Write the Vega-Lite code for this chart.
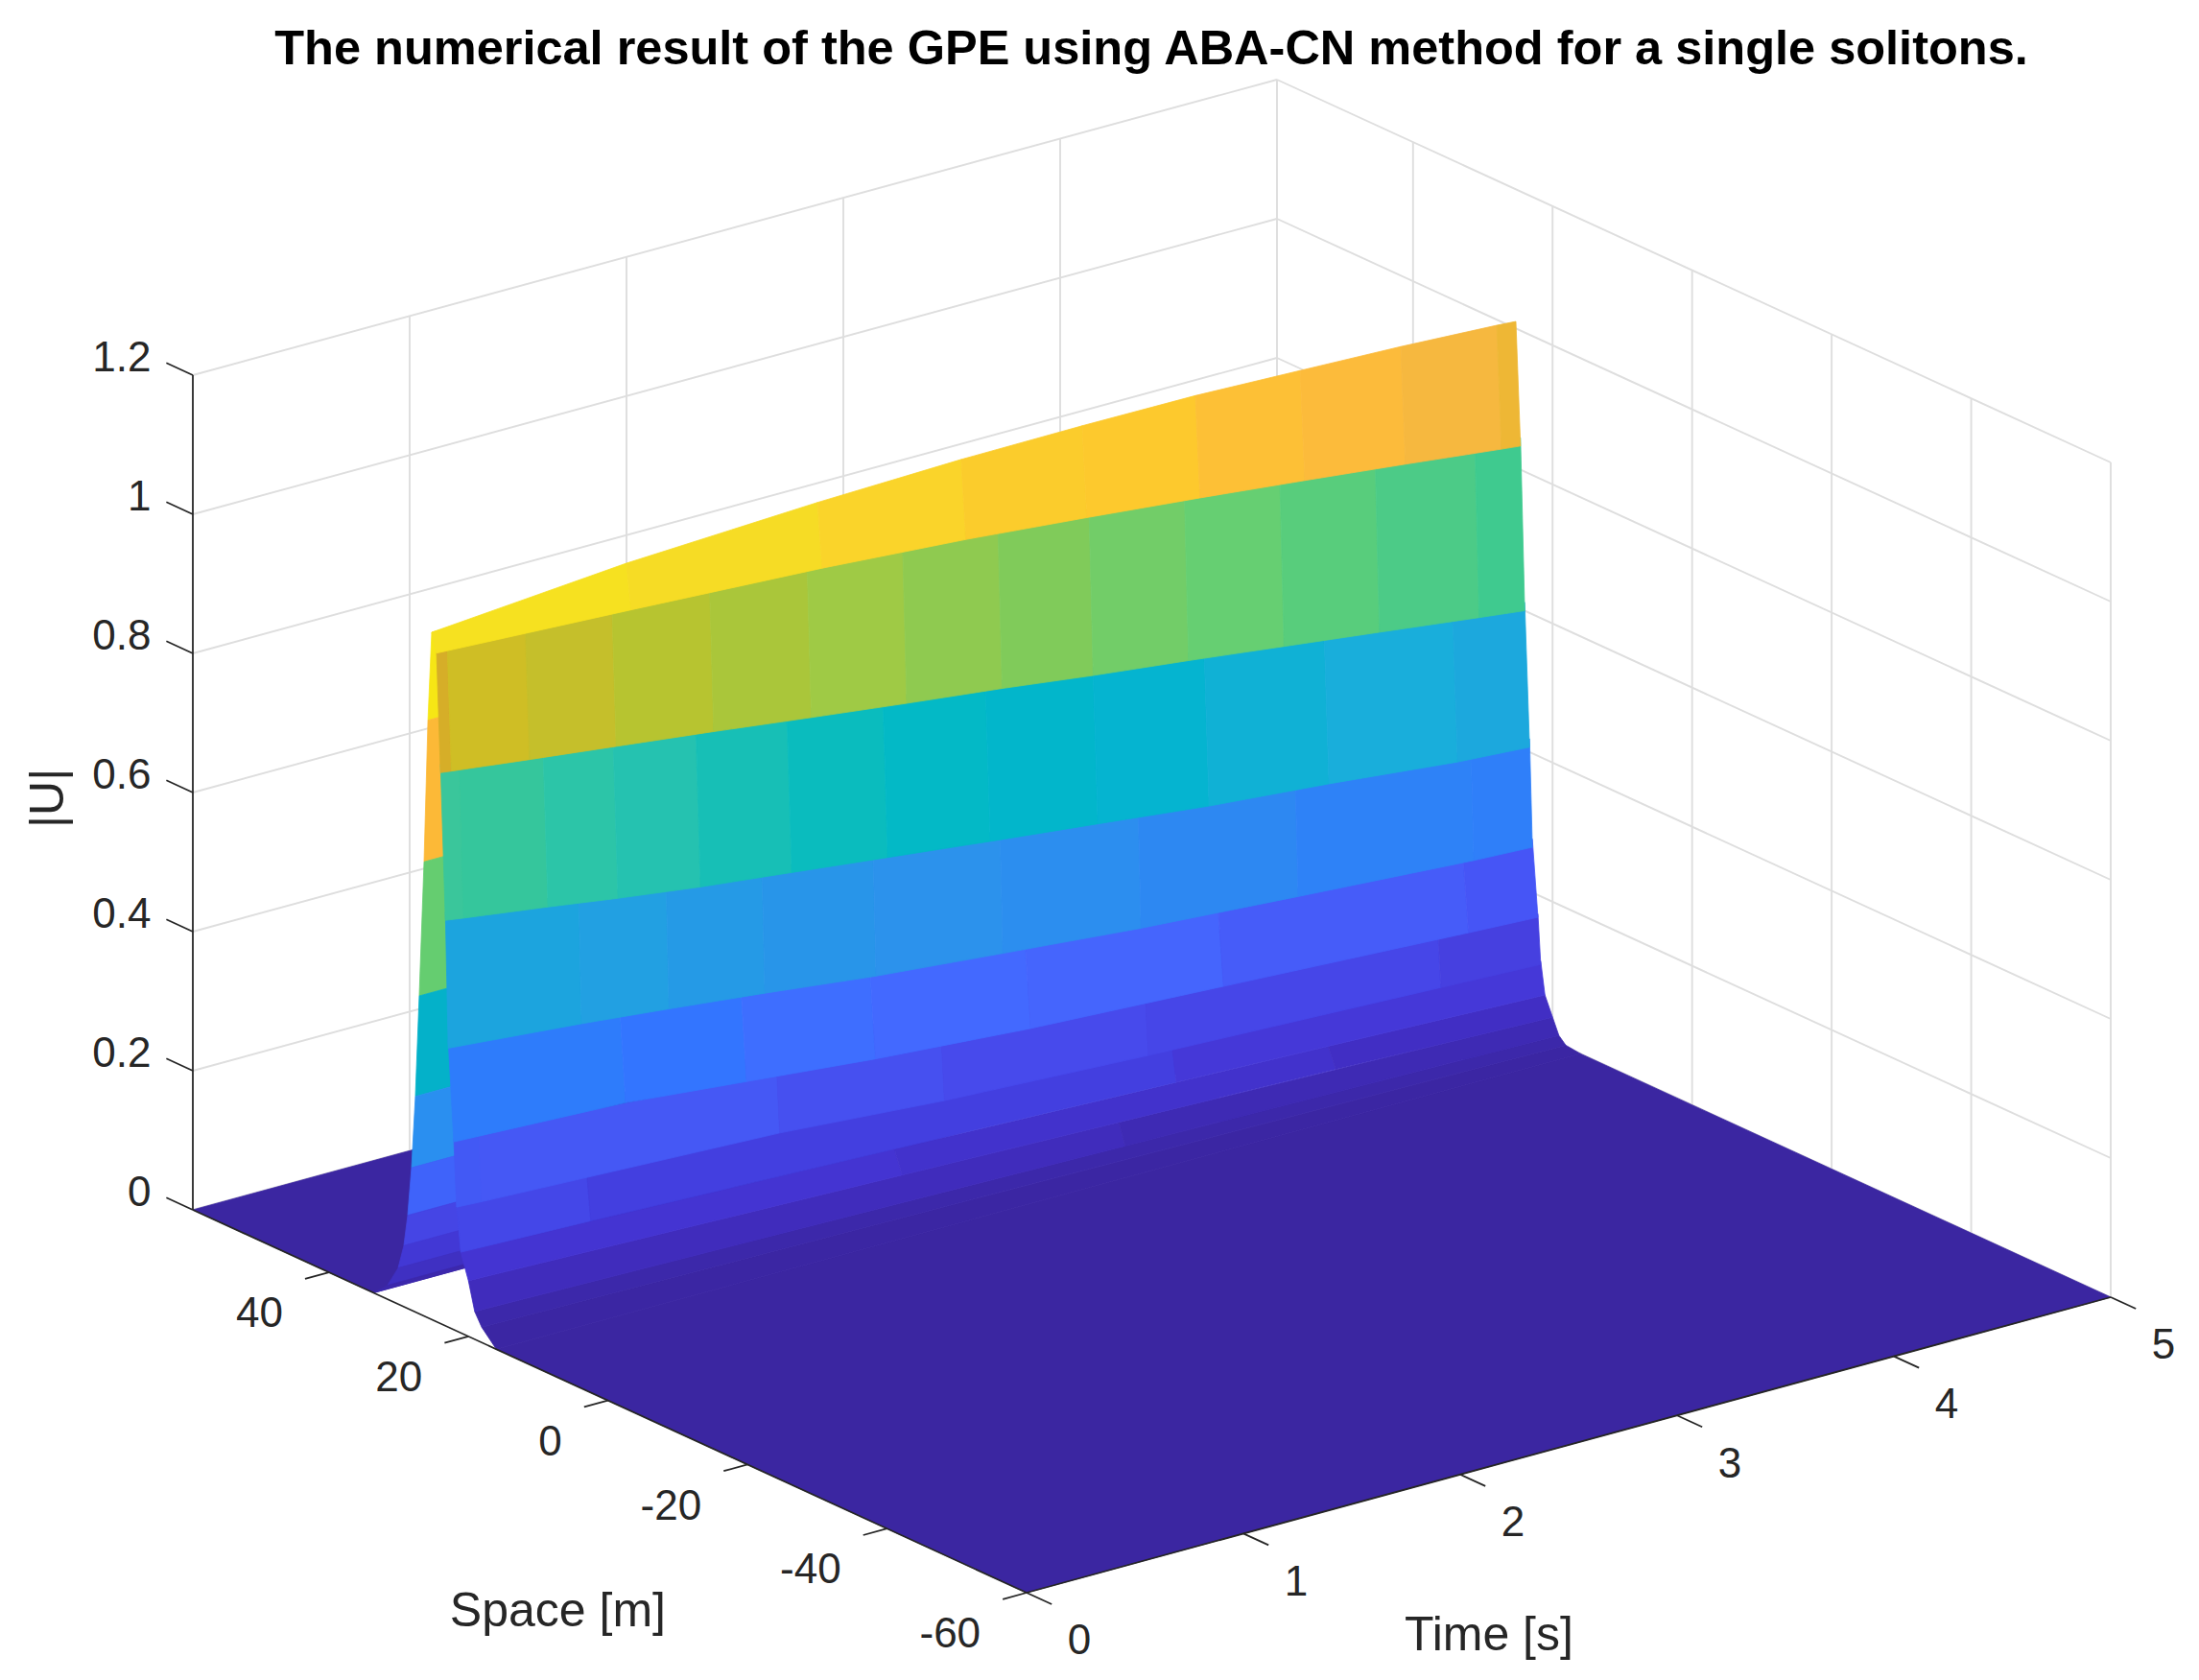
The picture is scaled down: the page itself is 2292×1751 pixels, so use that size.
{"$schema":"https://vega.github.io/schema/vega-lite/v6.json","width":2292,"height":1751,"padding":0,"autosize":{"type":"none"},"background":"white","view":{"stroke":null},
"title":{"text":"The numerical result of the GPE using ABA-CN method for a single solitons.","anchor":"middle","frame":"group","font":"Liberation Sans","fontWeight":"bold","fontSize":50.5,"color":"#000000","offset":0,"dx":54,"dy":117,"baseline":"alphabetic"},
"datasets":{
"walls":[
{"id":"a0","t0":0,"t1":5,"s0":59.5,"s1":59.5,"u0":0,"u1":0},{"id":"a1","t0":0,"t1":5,"s0":59.5,"s1":59.5,"u0":0.2,"u1":0.2},{"id":"a2","t0":0,"t1":5,"s0":59.5,"s1":59.5,"u0":0.4,"u1":0.4},{"id":"a3","t0":0,"t1":5,"s0":59.5,"s1":59.5,"u0":0.6,"u1":0.6},{"id":"a4","t0":0,"t1":5,"s0":59.5,"s1":59.5,"u0":0.8,"u1":0.8},{"id":"a5","t0":0,"t1":5,"s0":59.5,"s1":59.5,"u0":1,"u1":1},{"id":"a6","t0":0,"t1":5,"s0":59.5,"s1":59.5,"u0":1.2,"u1":1.2},
{"id":"b0","t0":5,"t1":5,"s0":59.5,"s1":-60,"u0":0,"u1":0},{"id":"b1","t0":5,"t1":5,"s0":59.5,"s1":-60,"u0":0.2,"u1":0.2},{"id":"b2","t0":5,"t1":5,"s0":59.5,"s1":-60,"u0":0.4,"u1":0.4},{"id":"b3","t0":5,"t1":5,"s0":59.5,"s1":-60,"u0":0.6,"u1":0.6},{"id":"b4","t0":5,"t1":5,"s0":59.5,"s1":-60,"u0":0.8,"u1":0.8},{"id":"b5","t0":5,"t1":5,"s0":59.5,"s1":-60,"u0":1,"u1":1},{"id":"b6","t0":5,"t1":5,"s0":59.5,"s1":-60,"u0":1.2,"u1":1.2},
{"id":"c1","t0":1,"t1":1,"s0":59.5,"s1":59.5,"u0":0,"u1":1.2},{"id":"c2","t0":2,"t1":2,"s0":59.5,"s1":59.5,"u0":0,"u1":1.2},{"id":"c3","t0":3,"t1":3,"s0":59.5,"s1":59.5,"u0":0,"u1":1.2},{"id":"c4","t0":4,"t1":4,"s0":59.5,"s1":59.5,"u0":0,"u1":1.2},{"id":"c5","t0":5,"t1":5,"s0":59.5,"s1":59.5,"u0":0,"u1":1.2},
{"id":"d1","t0":5,"t1":5,"s0":40,"s1":40,"u0":0,"u1":1.2},{"id":"d2","t0":5,"t1":5,"s0":20,"s1":20,"u0":0,"u1":1.2},{"id":"d3","t0":5,"t1":5,"s0":0,"s1":0,"u0":0,"u1":1.2},{"id":"d4","t0":5,"t1":5,"s0":-20,"s1":-20,"u0":0,"u1":1.2},{"id":"d5","t0":5,"t1":5,"s0":-40,"s1":-40,"u0":0,"u1":1.2},{"id":"d6","t0":5,"t1":5,"s0":-60,"s1":-60,"u0":0,"u1":1.2}],
"axes":[
{"id":"e1","t0":0,"t1":0,"s0":59.5,"s1":59.5,"u0":0,"u1":1.2},{"id":"e2","t0":0,"t1":0,"s0":59.5,"s1":-60,"u0":0,"u1":0},{"id":"e3","t0":0,"t1":5,"s0":-60,"s1":-60,"u0":0,"u1":0},
{"id":"f0","t0":0,"t1":0,"s0":59.5,"s1":63.3,"u0":0,"u1":0},{"id":"f1","t0":0,"t1":0,"s0":59.5,"s1":63.3,"u0":0.2,"u1":0.2},{"id":"f2","t0":0,"t1":0,"s0":59.5,"s1":63.3,"u0":0.4,"u1":0.4},{"id":"f3","t0":0,"t1":0,"s0":59.5,"s1":63.3,"u0":0.6,"u1":0.6},{"id":"f4","t0":0,"t1":0,"s0":59.5,"s1":63.3,"u0":0.8,"u1":0.8},{"id":"f5","t0":0,"t1":0,"s0":59.5,"s1":63.3,"u0":1,"u1":1},{"id":"f6","t0":0,"t1":0,"s0":59.5,"s1":63.3,"u0":1.2,"u1":1.2},
{"id":"g1","t0":0,"t1":-0.11,"s0":40,"s1":40,"u0":0,"u1":0},{"id":"g2","t0":0,"t1":-0.11,"s0":20,"s1":20,"u0":0,"u1":0},{"id":"g3","t0":0,"t1":-0.11,"s0":0,"s1":0,"u0":0,"u1":0},{"id":"g4","t0":0,"t1":-0.11,"s0":-20,"s1":-20,"u0":0,"u1":0},{"id":"g5","t0":0,"t1":-0.11,"s0":-40,"s1":-40,"u0":0,"u1":0},{"id":"g6","t0":0,"t1":-0.11,"s0":-60,"s1":-60,"u0":0,"u1":0},
{"id":"h0","t0":0,"t1":0,"s0":-60,"s1":-63.6,"u0":0,"u1":0},{"id":"h1","t0":1,"t1":1,"s0":-60,"s1":-63.6,"u0":0,"u1":0},{"id":"h2","t0":2,"t1":2,"s0":-60,"s1":-63.6,"u0":0,"u1":0},{"id":"h3","t0":3,"t1":3,"s0":-60,"s1":-63.6,"u0":0,"u1":0},{"id":"h4","t0":4,"t1":4,"s0":-60,"s1":-63.6,"u0":0,"u1":0},{"id":"h5","t0":5,"t1":5,"s0":-60,"s1":-63.6,"u0":0,"u1":0}],
"surface":[
{"cell":1,"t0":0,"t1":5,"s0":59.5,"s1":33.6,"a0":0,"a1":0,"b0":0,"b1":0},
{"cell":10,"t0":0,"t1":0.5,"s0":25.26,"s1":25.8,"a0":0.988,"a1":0.988,"b0":0.859,"b1":0.859},
{"cell":11,"t0":0,"t1":0.5,"s0":25.8,"s1":26.36,"a0":0.859,"a1":0.859,"b0":0.653,"b1":0.653},
{"cell":12,"t0":0,"t1":0.5,"s0":26.36,"s1":27.05,"a0":0.653,"a1":0.653,"b0":0.457,"b1":0.457},
{"cell":13,"t0":0,"t1":0.5,"s0":27.05,"s1":27.6,"a0":0.457,"a1":0.457,"b0":0.31,"b1":0.31},
{"cell":14,"t0":0,"t1":0.5,"s0":27.6,"s1":28.15,"a0":0.31,"a1":0.31,"b0":0.205,"b1":0.205},
{"cell":15,"t0":0,"t1":0.5,"s0":28.15,"s1":28.7,"a0":0.205,"a1":0.205,"b0":0.134,"b1":0.134},
{"cell":16,"t0":0,"t1":0.5,"s0":28.7,"s1":29.25,"a0":0.134,"a1":0.134,"b0":0.088,"b1":0.088},
{"cell":17,"t0":0,"t1":0.5,"s0":29.25,"s1":30.07,"a0":0.088,"a1":0.088,"b0":0.052,"b1":0.052},
{"cell":18,"t0":0,"t1":0.5,"s0":30.07,"s1":31.6,"a0":0.052,"a1":0.052,"b0":0.02,"b1":0.02},
{"cell":19,"t0":0,"t1":0.5,"s0":31.6,"s1":33.6,"a0":0.02,"a1":0.02,"b0":0,"b1":0},
{"cell":2,"t0":0,"t1":5,"s0":16,"s1":-60,"a0":0,"a1":0,"b0":0,"b1":0},
{"cell":1101,"t0":0,"t1":5,"s0":18.1,"s1":16,"a0":0.022,"a1":0.0025,"b0":0,"b1":0},
{"cell":1001,"t0":0,"t1":5,"s0":19.1,"s1":18.1,"a0":0.04,"a1":0.012,"b0":0.022,"b1":0.0025},
{"cell":901,"t0":0,"t1":3,"s0":20,"s1":19.1,"a0":0.08,"a1":0.053,"b0":0.04,"b1":0.023},
{"cell":902,"t0":3,"t1":5,"s0":20,"s1":19.1,"a0":0.053,"a1":0.034,"b0":0.023,"b1":0.012},
{"cell":801,"t0":0,"t1":2,"s0":21.1,"s1":20,"a0":0.116,"a1":0.094,"b0":0.08,"b1":0.062},
{"cell":802,"t0":2,"t1":4,"s0":21.1,"s1":20,"a0":0.094,"a1":0.072,"b0":0.062,"b1":0.044},
{"cell":803,"t0":4,"t1":5,"s0":21.1,"s1":20,"a0":0.072,"a1":0.061,"b0":0.044,"b1":0.034},
{"cell":701,"t0":0,"t1":0.6,"s0":21.7,"s1":21.1,"a0":0.178,"a1":0.173,"b0":0.116,"b1":0.11},
{"cell":702,"t0":0.6,"t1":3.3,"s0":21.7,"s1":21.1,"a0":0.173,"a1":0.124,"b0":0.11,"b1":0.08},
{"cell":703,"t0":3.3,"t1":5,"s0":21.7,"s1":21.1,"a0":0.124,"a1":0.102,"b0":0.08,"b1":0.061},
{"cell":601,"t0":0,"t1":0.115,"s0":22.1,"s1":21.7,"a0":0.27,"a1":0.268,"b0":0.178,"b1":0.176},
{"cell":602,"t0":0.115,"t1":1.49,"s0":22.1,"s1":21.7,"a0":0.268,"a1":0.238,"b0":0.176,"b1":0.158},
{"cell":603,"t0":1.49,"t1":2.25,"s0":22.1,"s1":21.7,"a0":0.238,"a1":0.214,"b0":0.158,"b1":0.14},
{"cell":604,"t0":2.25,"t1":3.19,"s0":22.1,"s1":21.7,"a0":0.214,"a1":0.198,"b0":0.14,"b1":0.125},
{"cell":605,"t0":3.19,"t1":4.54,"s0":22.1,"s1":21.7,"a0":0.198,"a1":0.176,"b0":0.125,"b1":0.108},
{"cell":606,"t0":4.54,"t1":5,"s0":22.1,"s1":21.7,"a0":0.176,"a1":0.168,"b0":0.108,"b1":0.102},
{"cell":501,"t0":0,"t1":0.792,"s0":22.9,"s1":22.1,"a0":0.401,"a1":0.378,"b0":0.27,"b1":0.259},
{"cell":502,"t0":0.792,"t1":1.35,"s0":22.9,"s1":22.1,"a0":0.378,"a1":0.361,"b0":0.259,"b1":0.242},
{"cell":503,"t0":1.35,"t1":1.945,"s0":22.9,"s1":22.1,"a0":0.361,"a1":0.338,"b0":0.242,"b1":0.224},
{"cell":504,"t0":1.945,"t1":2.66,"s0":22.9,"s1":22.1,"a0":0.338,"a1":0.317,"b0":0.224,"b1":0.207},
{"cell":505,"t0":2.66,"t1":3.55,"s0":22.9,"s1":22.1,"a0":0.317,"a1":0.294,"b0":0.207,"b1":0.192},
{"cell":506,"t0":3.55,"t1":4.68,"s0":22.9,"s1":22.1,"a0":0.294,"a1":0.27,"b0":0.192,"b1":0.173},
{"cell":507,"t0":4.68,"t1":5,"s0":22.9,"s1":22.1,"a0":0.27,"a1":0.265,"b0":0.173,"b1":0.168},
{"cell":401,"t0":0,"t1":0.615,"s0":23.3,"s1":22.9,"a0":0.583,"a1":0.556,"b0":0.401,"b1":0.384},
{"cell":402,"t0":0.615,"t1":1.018,"s0":23.3,"s1":22.9,"a0":0.556,"a1":0.538,"b0":0.384,"b1":0.371},
{"cell":403,"t0":1.018,"t1":1.46,"s0":23.3,"s1":22.9,"a0":0.538,"a1":0.521,"b0":0.371,"b1":0.356},
{"cell":404,"t0":1.46,"t1":1.973,"s0":23.3,"s1":22.9,"a0":0.521,"a1":0.502,"b0":0.356,"b1":0.337},
{"cell":405,"t0":1.973,"t1":2.558,"s0":23.3,"s1":22.9,"a0":0.502,"a1":0.482,"b0":0.337,"b1":0.32},
{"cell":406,"t0":2.558,"t1":3.195,"s0":23.3,"s1":22.9,"a0":0.482,"a1":0.459,"b0":0.32,"b1":0.302},
{"cell":407,"t0":3.195,"t1":3.92,"s0":23.3,"s1":22.9,"a0":0.459,"a1":0.437,"b0":0.302,"b1":0.286},
{"cell":408,"t0":3.92,"t1":4.73,"s0":23.3,"s1":22.9,"a0":0.437,"a1":0.413,"b0":0.286,"b1":0.269},
{"cell":409,"t0":4.73,"t1":5,"s0":23.3,"s1":22.9,"a0":0.413,"a1":0.407,"b0":0.269,"b1":0.265},
{"cell":301,"t0":0,"t1":0.084,"s0":24,"s1":23.3,"a0":0.792,"a1":0.789,"b0":0.583,"b1":0.579},
{"cell":302,"t0":0.084,"t1":0.473,"s0":24,"s1":23.3,"a0":0.789,"a1":0.774,"b0":0.579,"b1":0.562},
{"cell":303,"t0":0.473,"t1":0.796,"s0":24,"s1":23.3,"a0":0.774,"a1":0.761,"b0":0.562,"b1":0.547},
{"cell":304,"t0":0.796,"t1":1.177,"s0":24,"s1":23.3,"a0":0.761,"a1":0.747,"b0":0.547,"b1":0.531},
{"cell":305,"t0":1.177,"t1":1.597,"s0":24,"s1":23.3,"a0":0.747,"a1":0.731,"b0":0.531,"b1":0.516},
{"cell":306,"t0":1.597,"t1":2.04,"s0":24,"s1":23.3,"a0":0.731,"a1":0.714,"b0":0.516,"b1":0.5},
{"cell":307,"t0":2.04,"t1":2.513,"s0":24,"s1":23.3,"a0":0.714,"a1":0.696,"b0":0.5,"b1":0.483},
{"cell":308,"t0":2.513,"t1":3.009,"s0":24,"s1":23.3,"a0":0.696,"a1":0.676,"b0":0.483,"b1":0.466},
{"cell":309,"t0":3.009,"t1":3.522,"s0":24,"s1":23.3,"a0":0.676,"a1":0.657,"b0":0.466,"b1":0.448},
{"cell":310,"t0":3.522,"t1":4.075,"s0":24,"s1":23.3,"a0":0.657,"a1":0.636,"b0":0.448,"b1":0.433},
{"cell":311,"t0":4.075,"t1":4.668,"s0":24,"s1":23.3,"a0":0.636,"a1":0.613,"b0":0.433,"b1":0.414},
{"cell":312,"t0":4.668,"t1":5,"s0":24,"s1":23.3,"a0":0.613,"a1":0.6,"b0":0.414,"b1":0.407},
{"cell":201,"t0":0,"t1":0.05,"s0":24.6,"s1":24,"a0":0.961,"a1":0.96,"b0":0.792,"b1":0.79},
{"cell":202,"t0":0.05,"t1":0.41,"s0":24.6,"s1":24,"a0":0.96,"a1":0.955,"b0":0.79,"b1":0.776},
{"cell":203,"t0":0.41,"t1":0.81,"s0":24.6,"s1":24,"a0":0.955,"a1":0.949,"b0":0.776,"b1":0.761},
{"cell":204,"t0":0.81,"t1":1.26,"s0":24.6,"s1":24,"a0":0.949,"a1":0.941,"b0":0.761,"b1":0.744},
{"cell":205,"t0":1.26,"t1":1.71,"s0":24.6,"s1":24,"a0":0.941,"a1":0.934,"b0":0.744,"b1":0.726},
{"cell":206,"t0":1.71,"t1":2.15,"s0":24.6,"s1":24,"a0":0.934,"a1":0.924,"b0":0.726,"b1":0.709},
{"cell":207,"t0":2.15,"t1":2.59,"s0":24.6,"s1":24,"a0":0.924,"a1":0.913,"b0":0.709,"b1":0.693},
{"cell":208,"t0":2.59,"t1":3.01,"s0":24.6,"s1":24,"a0":0.913,"a1":0.901,"b0":0.693,"b1":0.676},
{"cell":209,"t0":3.01,"t1":3.45,"s0":24.6,"s1":24,"a0":0.901,"a1":0.887,"b0":0.676,"b1":0.66},
{"cell":210,"t0":3.45,"t1":3.89,"s0":24.6,"s1":24,"a0":0.887,"a1":0.873,"b0":0.66,"b1":0.643},
{"cell":211,"t0":3.89,"t1":4.33,"s0":24.6,"s1":24,"a0":0.873,"a1":0.858,"b0":0.643,"b1":0.626},
{"cell":212,"t0":4.33,"t1":4.79,"s0":24.6,"s1":24,"a0":0.858,"a1":0.84,"b0":0.626,"b1":0.608},
{"cell":213,"t0":4.79,"t1":5,"s0":24.6,"s1":24,"a0":0.84,"a1":0.834,"b0":0.608,"b1":0.6},
{"cell":101,"t0":0,"t1":0.898,"s0":25.26,"s1":24.6,"a0":0.988,"a1":1.011,"b0":0.961,"b1":0.947},
{"cell":102,"t0":0.898,"t1":1.779,"s0":25.26,"s1":24.6,"a0":1.011,"a1":1.0235,"b0":0.947,"b1":0.932},
{"cell":103,"t0":1.779,"t1":2.442,"s0":25.26,"s1":24.6,"a0":1.0235,"a1":1.029,"b0":0.932,"b1":0.917},
{"cell":104,"t0":2.442,"t1":3,"s0":25.26,"s1":24.6,"a0":1.029,"a1":1.03,"b0":0.917,"b1":0.901},
{"cell":105,"t0":3,"t1":3.522,"s0":25.26,"s1":24.6,"a0":1.03,"a1":1.029,"b0":0.901,"b1":0.885},
{"cell":106,"t0":3.522,"t1":4.005,"s0":25.26,"s1":24.6,"a0":1.029,"a1":1.024,"b0":0.885,"b1":0.869},
{"cell":107,"t0":4.005,"t1":4.469,"s0":25.26,"s1":24.6,"a0":1.024,"a1":1.019,"b0":0.869,"b1":0.853},
{"cell":108,"t0":4.469,"t1":4.912,"s0":25.26,"s1":24.6,"a0":1.019,"a1":1.012,"b0":0.853,"b1":0.837},
{"cell":109,"t0":4.912,"t1":5,"s0":25.26,"s1":24.6,"a0":1.012,"a1":1.01,"b0":0.837,"b1":0.834}],
"zlabels":[{"value":"0","level":0},{"value":"0.2","level":0.2},{"value":"0.4","level":0.4},{"value":"0.6","level":0.6},{"value":"0.8","level":0.8},{"value":"1","level":1},{"value":"1.2","level":1.2}],
"slabels":[{"value":"40","level":40},{"value":"20","level":20},{"value":"0","level":0},{"value":"-20","level":-20},{"value":"-40","level":-40},{"value":"-60","level":-60}],
"tlabels":[{"value":"0","level":0},{"value":"1","level":1},{"value":"2","level":2},{"value":"3","level":3},{"value":"4","level":4},{"value":"5","level":5}]
},
"layer":[
{"data":{"name":"walls"},
"transform":[{"calculate":"[datum.t0,datum.t1]","as":"t"},{"calculate":"[datum.s0,datum.s1]","as":"s"},{"calculate":"[datum.u0,datum.u1]","as":"u"},{"calculate":"[0,1]","as":"k"},{"flatten":["t","s","u","k"]},{"calculate":"1070+226*datum.t-7.272*(datum.s+60)","as":"X"},{"calculate":"1660-61.6*datum.t-3.339*(datum.s+60)-725*datum.u","as":"Y"}],
"mark":{"type":"line","color":"#dedede","strokeWidth":1.9},
"encoding":{"x":{"field":"X","type":"quantitative","axis":null,"scale":{"domain":[0,2292],"nice":false,"zero":false}},"y":{"field":"Y","type":"quantitative","axis":null,"scale":{"domain":[1751,0],"nice":false,"zero":false}},"detail":{"field":"id"},"order":{"field":"k"}}},
{"data":{"name":"surface"},
"transform":[{"calculate":"datum.cell>=800?0:(datum.cell>=600?0.005:(datum.cell>=200?0.012:0))","as":"lap"},{"calculate":"[datum.t0,datum.t1,datum.t1,datum.t0]","as":"t"},{"calculate":"[datum.s0,datum.s0,datum.s1,datum.s1]","as":"s"},{"calculate":"[datum.a0+datum.lap,datum.a1+datum.lap,datum.b1,datum.b0]","as":"u"},{"calculate":"[0,1,2,3]","as":"k"},{"flatten":["t","s","u","k"]},{"calculate":"1070+226*datum.t-7.272*(datum.s+60)","as":"X"},{"calculate":"1660-61.6*datum.t-3.339*(datum.s+60)-725*datum.u","as":"Y"}],
"mark":{"type":"line","filled":true,"interpolate":"linear-closed","strokeWidth":0.8},
"encoding":{"x":{"field":"X","type":"quantitative"},"y":{"field":"Y","type":"quantitative"},"detail":{"field":"cell"},"order":{"field":"k"},
"fill":{"field":"cell","type":"ordinal","legend":null,"scale":{"range":["#3b26a1","#3b26a1","#f6e615","#fcb937","#65cd70","#04b1c9","#2a8ff0","#3f63fa","#4545e5","#4238d5","#3f30c2","#3c28ac","#f6e120","#f6dc25","#fad42a","#fbcc2c","#fdc92d","#fdc036","#fcbb3b","#f6b83f","#eeb735","#d6ae28","#cfbe25","#c5bf2b","#b7c430","#aac63a","#9fca45","#8fca50","#80cb5a","#72cd68","#66cf72","#58cd7c","#4ccb87","#3fca8f","#3ac69b","#35c69c","#2cc5a8","#25c2b0","#17bfb6","#0abcbe","#03b9c6","#02b6cb","#05b4d0","#10b1d5","#19aedb","#1ca8dd","#1ca4de","#22a0e2","#259ae6","#2895e9","#2c92ec","#2c8eef","#2d88f2","#2e82f7","#2f7ff9","#2e7cfb","#3375ff","#3e6eff","#4369ff","#4565fd","#465cf9","#4655f6","#4259f5","#4558f5","#4650f0","#474aec","#4646e8","#4640e0","#4447e8","#433fe0","#4538d8","#4434d2","#4232cc","#412ec4","#402cbc","#3e2ab4","#3c28aa","#3b26a3"]}},
"stroke":{"field":"cell","type":"ordinal","legend":null,"scale":{"range":["#3b26a1","#3b26a1","#f6e615","#fcb937","#65cd70","#04b1c9","#2a8ff0","#3f63fa","#4545e5","#4238d5","#3f30c2","#3c28ac","#f6e120","#f6dc25","#fad42a","#fbcc2c","#fdc92d","#fdc036","#fcbb3b","#f6b83f","#eeb735","#d6ae28","#cfbe25","#c5bf2b","#b7c430","#aac63a","#9fca45","#8fca50","#80cb5a","#72cd68","#66cf72","#58cd7c","#4ccb87","#3fca8f","#3ac69b","#35c69c","#2cc5a8","#25c2b0","#17bfb6","#0abcbe","#03b9c6","#02b6cb","#05b4d0","#10b1d5","#19aedb","#1ca8dd","#1ca4de","#22a0e2","#259ae6","#2895e9","#2c92ec","#2c8eef","#2d88f2","#2e82f7","#2f7ff9","#2e7cfb","#3375ff","#3e6eff","#4369ff","#4565fd","#465cf9","#4655f6","#4259f5","#4558f5","#4650f0","#474aec","#4646e8","#4640e0","#4447e8","#433fe0","#4538d8","#4434d2","#4232cc","#412ec4","#402cbc","#3e2ab4","#3c28aa","#3b26a3"]}}}},
{"data":{"name":"axes"},
"transform":[{"calculate":"[datum.t0,datum.t1]","as":"t"},{"calculate":"[datum.s0,datum.s1]","as":"s"},{"calculate":"[datum.u0,datum.u1]","as":"u"},{"calculate":"[0,1]","as":"k"},{"flatten":["t","s","u","k"]},{"calculate":"1070+226*datum.t-7.272*(datum.s+60)","as":"X"},{"calculate":"1660-61.6*datum.t-3.339*(datum.s+60)-725*datum.u","as":"Y"}],
"mark":{"type":"line","color":"#262626","strokeWidth":1.8},
"encoding":{"x":{"field":"X","type":"quantitative"},"y":{"field":"Y","type":"quantitative"},"detail":{"field":"id"},"order":{"field":"k"}}},
{"data":{"name":"zlabels"},
"transform":[{"calculate":"1070-7.272*(65.5+60)","as":"X"},{"calculate":"1663-3.339*(65.5+60)-725*datum.level","as":"Y"}],
"mark":{"type":"text","font":"Liberation Sans","fontSize":44,"align":"right","baseline":"middle","color":"#262626"},
"encoding":{"x":{"field":"X","type":"quantitative"},"y":{"field":"Y","type":"quantitative"},"text":{"field":"value","type":"nominal"}}},
{"data":{"name":"slabels"},
"transform":[{"calculate":"1070+226*(-0.212)-7.272*(datum.level+60)","as":"X"},{"calculate":"1660-61.6*(-0.212)-3.339*(datum.level+60)-725*(-0.043)","as":"Y"}],
"mark":{"type":"text","font":"Liberation Sans","fontSize":44,"align":"right","baseline":"middle","color":"#262626"},
"encoding":{"x":{"field":"X","type":"quantitative"},"y":{"field":"Y","type":"quantitative"},"text":{"field":"value","type":"nominal"}}},
{"data":{"name":"tlabels"},
"transform":[{"calculate":"1070+226*datum.level-7.272*(-7.56)","as":"X"},{"calculate":"1660-61.6*datum.level-3.339*(-7.56)-725*(-0.036)","as":"Y"}],
"mark":{"type":"text","font":"Liberation Sans","fontSize":44,"align":"center","baseline":"middle","color":"#262626"},
"encoding":{"x":{"field":"X","type":"quantitative"},"y":{"field":"Y","type":"quantitative"},"text":{"field":"value","type":"nominal"}}},
{"data":{"values":[{"value":"Space [m]","t":-0.55,"s":-9.9,"u":-0.2116},{"value":"Time [s]","t":1.55,"s":-78.1,"u":-0.1107}]},
"transform":[{"calculate":"1070+226*datum.t-7.272*(datum.s+60)","as":"X"},{"calculate":"1660-61.6*datum.t-3.339*(datum.s+60)-725*datum.u","as":"Y"}],
"mark":{"type":"text","font":"Liberation Sans","fontSize":50,"align":"center","baseline":"middle","color":"#262626"},
"encoding":{"x":{"field":"X","type":"quantitative"},"y":{"field":"Y","type":"quantitative"},"text":{"field":"value","type":"nominal"}}},
{"data":{"values":[{"value":"|U|","t":0,"s":80.1,"u":0.497}]},
"transform":[{"calculate":"1070+226*datum.t-7.272*(datum.s+60)","as":"X"},{"calculate":"1660-61.6*datum.t-3.339*(datum.s+60)-725*datum.u","as":"Y"}],
"mark":{"type":"text","font":"Liberation Sans","fontSize":50,"align":"center","baseline":"middle","angle":270,"color":"#262626"},
"encoding":{"x":{"field":"X","type":"quantitative"},"y":{"field":"Y","type":"quantitative"},"text":{"field":"value","type":"nominal"}}}
]}
